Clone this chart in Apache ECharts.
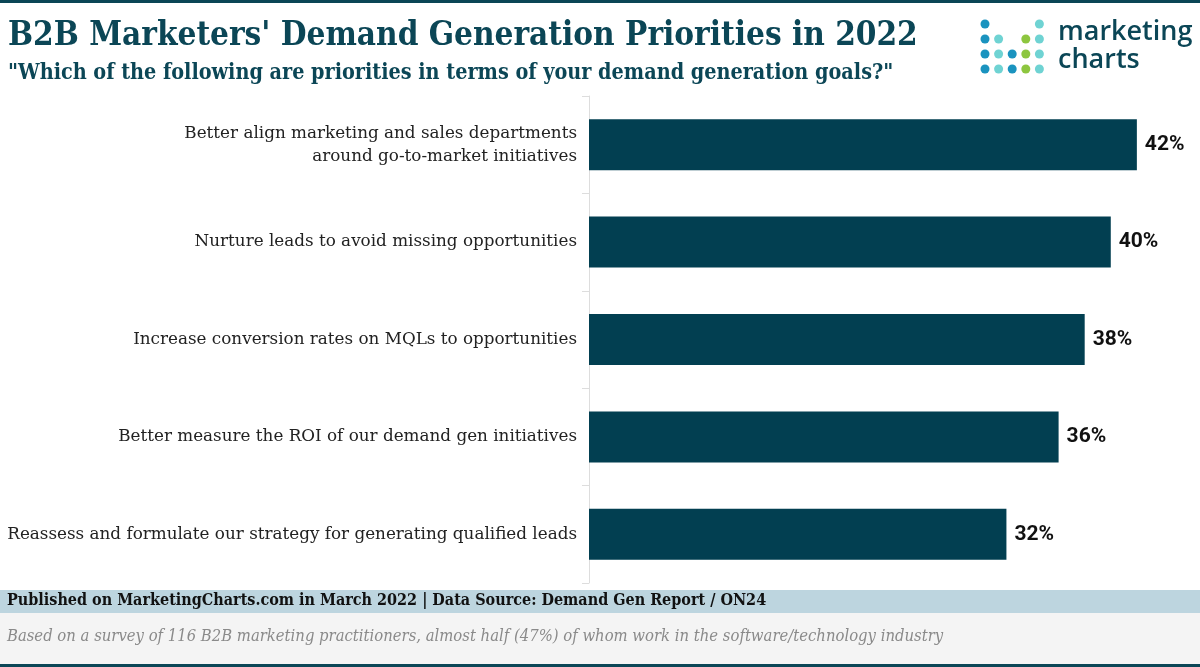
<!DOCTYPE html>
<html lang="en">
<head>
    <meta charset="utf-8">
    <title>B2B Marketers' Demand Generation Priorities in 2022</title>
    <script src="https://cdn.jsdelivr.net/npm/echarts@6/dist/echarts.min.js"></script>
    <style type="text/css">
        html, body { margin: 0; padding: 0; background: #fff; }
        #chart { width: 1200px; height: 667px; }
    </style>
</head>
<body>
    <div id="chart"></div>
    <script>
        // data
        var categories = [
            'Better align marketing and sales departments\naround go-to-market initiatives',
            'Nurture leads to avoid missing opportunities',
            'Increase conversion rates on MQLs to opportunities',
            'Better measure the ROI of our demand gen initiatives',
            'Reassess and formulate our strategy for generating qualified leads'
        ];
        var shares = [42, 40, 38, 36, 32];

        var dark = '#0b4656';
        var serif = '"DejaVu Serif Condensed", "DejaVu Serif", serif';

        // logo dots: [col, row, colour]
        var blue = '#1a93bf', teal = '#6fd3d3', green = '#8dc63f';
        var logoDots = [
            [0, 0, blue], [4, 0, teal],
            [0, 1, blue], [1, 1, teal], [3, 1, green], [4, 1, teal],
            [0, 2, blue], [1, 2, teal], [2, 2, blue], [3, 2, green], [4, 2, teal],
            [0, 3, blue], [1, 3, teal], [2, 3, blue], [3, 3, green], [4, 3, teal]
        ];

        var graphics = [
            { type: 'rect', shape: { x: 0, y: 0, width: 1200, height: 3 }, style: { fill: dark } },
            { type: 'text', left: 8, top: 20, style: { text: "B2B Marketers' Demand Generation Priorities in 2022", font: 'bold 33px ' + serif, fill: dark } },
            { type: 'text', left: 8, top: 63, style: { text: '"Which of the following are priorities in terms of your demand generation goals?"', font: 'bold 21.4px ' + serif, fill: dark } },
            { type: 'text', left: 1058, top: 19, style: { text: 'marketing', font: '600 27px "Open Sans", sans-serif', fill: dark } },
            { type: 'text', left: 1058, top: 47, style: { text: 'charts', font: '600 27px "Open Sans", sans-serif', fill: dark } },
            { type: 'rect', shape: { x: 0, y: 590, width: 1200, height: 23 }, style: { fill: '#bdd5df' } },
            { type: 'rect', shape: { x: 0, y: 613, width: 1200, height: 51 }, style: { fill: '#f4f4f4' } },
            { type: 'rect', shape: { x: 0, y: 664, width: 1200, height: 3 }, style: { fill: dark } },
            { type: 'text', left: 7, top: 593, style: { text: 'Published on MarketingCharts.com in March 2022 | Data Source: Demand Gen Report / ON24', font: 'bold 16px ' + serif, fill: '#111' } },
            { type: 'text', left: 7, top: 628, style: { text: 'Based on a survey of 116 B2B marketing practitioners, almost half (47%) of whom work in the software/technology industry', font: 'italic 16.5px ' + serif, fill: '#8a8a8a' } }
        ];
        logoDots.forEach(function (d) {
            graphics.push({
                type: 'circle',
                shape: { cx: 985 + d[0] * 13.6, cy: 24 + d[1] * 15, r: 4.5 },
                style: { fill: d[2] }
            });
        });

        var chart = echarts.init(document.getElementById('chart'));
        var option = {
            animation: false,
            backgroundColor: '#fff',
            graphic: graphics,
            grid: { left: 589, right: 24, top: 96, bottom: 84, containLabel: false, outerBoundsMode: 'none' },
            xAxis: {
                type: 'value',
                min: 0,
                max: 45,
                show: false
            },
            yAxis: {
                type: 'category',
                inverse: true,
                data: categories,
                axisLine: { show: true, lineStyle: { color: '#dddddd', width: 1 } },
                axisTick: { show: true, length: 7, lineStyle: { color: '#dddddd' } },
                axisLabel: {
                    margin: 12,
                    fontFamily: '"DejaVu Serif", serif',
                    fontSize: 16.8,
                    lineHeight: 23,
                    color: '#222',
                    align: 'right'
                }
            },
            series: [{
                type: 'bar',
                data: shares,
                barWidth: 51,
                itemStyle: { color: '#023f51' },
                label: {
                    show: true,
                    position: 'right',
                    distance: 8,
                    formatter: '{c}%',
                    fontFamily: 'Roboto, sans-serif',
                    fontWeight: 'bold',
                    fontSize: 21,
                    color: '#111'
                }
            }]
        };
        chart.setOption(option);
    </script>
</body>
</html>
